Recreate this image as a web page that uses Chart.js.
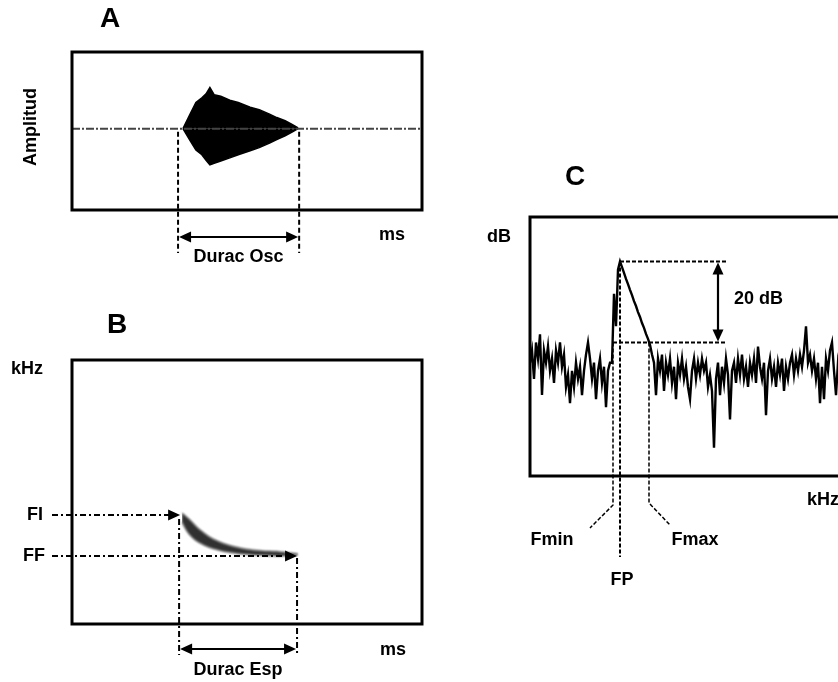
<!DOCTYPE html>
<html>
<head>
<meta charset="utf-8">
<script src="https://cdn.jsdelivr.net/npm/chart.js@4.4.1/dist/chart.umd.min.js"></script>
<style>
  html, body { margin: 0; padding: 0; background: #fff; overflow: hidden; }
  canvas { position: absolute; }
  #oscChart { left: 0; top: 0; }
  #espChart { left: 0; top: 290px; }
  #specChart { left: 460px; top: 150px; }
</style>
</head>
<body>
<canvas id="oscChart" width="460" height="290"></canvas>
<canvas id="espChart" width="460" height="392"></canvas>
<canvas id="specChart" width="440" height="450"></canvas>
<script>
// A - oscillogram envelope (ms, relative amplitude)
const oscTime  = [31.7, 33.7, 35.4, 37.1, 38.3, 39.4, 40.6, 42.5, 45.1, 47.5, 50.9, 53.5, 56.6, 58.5, 60.9, 63.0, 64.6];
const oscUpper = [0, 0.18, 0.33, 0.39, 0.44, 0.52, 0.43, 0.41, 0.36, 0.33, 0.27, 0.24, 0.18, 0.14, 0.10, 0.05, 0.01];
const oscLower = [0, -0.15, -0.27, -0.33, -0.40, -0.46, -0.44, -0.41, -0.37, -0.33, -0.28, -0.24, -0.18, -0.14, -0.09, -0.04, 0];
const duracOsc = [30.3, 64.9];

// B - spectrogram trace (ms, kHz)
const espTime  = [31.4, 33.7, 36.6, 40.9, 46.6, 53.7, 59.4, 64.6];
const espUpper = [4.20, 3.94, 3.56, 3.18, 2.92, 2.77, 2.73, 2.65];
const espLower = [3.86, 3.37, 3.07, 2.84, 2.69, 2.61, 2.58, 2.62];
const fiKhz = 4.13;
const ffKhz = 2.58;
const duracEsp = [30.6, 64.3];

// C - power spectrum, one value per frequency bin (dB)
const specDb = [
  -36, -33, -40, -31, -35, -29, -44, -33, -36, -32, -38, -35, -41, -33, -36, -31, -37, -34, -42, -39,
  -46, -38, -42, -36, -40, -37, -44, -38, -34, -31, -35, -40, -36, -45, -38, -35, -41, -37, -47, -38,
  -36, -36, -19, -27, -13, -11, -12.4, -13.8, -15.3, -16.6, -18.0, -19.3, -20.8, -22.0, -23.5, -24.7,
  -26.2, -27.4, -28.9, -30.1, -31.6, -34, -36, -44, -35, -38, -34, -43, -36, -39, -35, -41, -37, -45,
  -36, -39, -35, -40, -37, -42, -45, -38, -35, -40, -36, -39, -35, -38, -36, -42, -39, -43, -57, -40,
  -36, -44, -37, -41, -35, -39, -50, -38, -36, -41, -35, -39, -34, -40, -37, -42, -36, -39, -35, -41,
  -32, -37, -40, -36, -49, -38, -35, -40, -37, -42, -36, -39, -35, -43, -37, -40, -36, -34, -39, -35,
  -38, -34, -37, -33, -27, -36, -34, -38, -35, -40, -36, -46, -37, -45, -35, -38, -33, -31, -38, -44,
  -36, -39, -35, -41, -37, -34, -40, -36, -43, -38, -35, -39, -36, -42, -37, -34, -40, -38, -36, -41
];
const fMinBin = 41.5;
const fpBin = 45;
const fMaxBin = 59.5;
const peakDb = -11;

const FONT = 'bold 18px "Liberation Sans", Arial, sans-serif';
const BIG = 'bold 28px "Liberation Sans", Arial, sans-serif';

function path(ctx, pts, dash, width) {
  ctx.save();
  ctx.beginPath();
  ctx.setLineDash(dash || []);
  ctx.lineWidth = width || 2;
  ctx.strokeStyle = '#000';
  pts.forEach((p, i) => i ? ctx.lineTo(p[0], p[1]) : ctx.moveTo(p[0], p[1]));
  ctx.stroke();
  ctx.restore();
}

// filled arrow head, tip at (x, y), pointing along angle a
function head(ctx, x, y, a) {
  ctx.save();
  ctx.translate(x, y);
  ctx.rotate(a);
  ctx.fillStyle = '#000';
  ctx.beginPath();
  ctx.moveTo(0, 0);
  ctx.lineTo(-12, -5.5);
  ctx.lineTo(-12, 5.5);
  ctx.closePath();
  ctx.fill();
  ctx.restore();
}

function text(ctx, s, x, y, align, font) {
  ctx.save();
  ctx.font = font || FONT;
  ctx.fillStyle = '#000';
  ctx.textAlign = align || 'center';
  ctx.textBaseline = 'middle';
  ctx.fillText(s, x, y);
  ctx.restore();
}

function hArrow(ctx, x1, x2, y) {
  path(ctx, [[x1 + 4, y], [x2 - 4, y]], [], 2.2);
  head(ctx, x1, y, Math.PI);
  head(ctx, x2, y, 0);
}

const frame = {
  id: 'frame',
  afterDraw(chart) {
    const { ctx, chartArea: a } = chart;
    ctx.save();
    ctx.lineWidth = 3;
    ctx.strokeStyle = '#000';
    ctx.strokeRect(a.left, a.top, a.right - a.left, a.bottom - a.top);
    ctx.restore();
  }
};

function options(pad, xr, yr) {
  return {
    responsive: false,
    animation: false,
    layout: { padding: pad },
    plugins: { legend: { display: false }, tooltip: { enabled: false } },
    elements: { point: { radius: 0 }, line: { borderCapStyle: 'butt' } },
    scales: {
      x: { type: 'linear', display: false, min: xr[0], max: xr[1] },
      y: { type: 'linear', display: false, min: yr[0], max: yr[1] }
    }
  };
}

const pts = (xs, ys) => xs.map((x, i) => ({ x, y: ys[i] }));

// A: oscillogram
new Chart(document.getElementById('oscChart'), {
  type: 'line',
  data: {
    datasets: [
      { data: [{ x: 0, y: 0 }, { x: 100, y: 0 }], borderColor: '#444', borderWidth: 2, borderDash: [8, 2, 2, 2] },
      { data: pts(oscTime, oscUpper), borderColor: '#000', borderWidth: 1.5, backgroundColor: '#000', fill: 'origin' },
      { data: pts(oscTime, oscLower), borderColor: '#000', borderWidth: 1.5, backgroundColor: '#000', fill: 'origin' }
    ]
  },
  options: options({ left: 72, top: 52, right: 38, bottom: 80 }, [0, 100], [-1.03, 0.97]),
  plugins: [frame, {
    id: 'oscNotes',
    afterDraw(chart) {
      const { ctx, chartArea: a, scales: { x, y } } = chart;
      const x1 = x.getPixelForValue(duracOsc[0]);
      const x2 = x.getPixelForValue(duracOsc[1]);
      const y0 = y.getPixelForValue(0);
      path(ctx, [[x1, y0 + 3], [x1, a.bottom + 43]], [5, 3]);
      path(ctx, [[x2, y0 + 3], [x2, a.bottom + 43]], [5, 3]);
      hArrow(ctx, x1 + 1, x2 - 1, a.bottom + 27);
      text(ctx, 'Durac Osc', (x1 + x2) / 2, a.bottom + 47);
      text(ctx, 'ms', a.right - 30, a.bottom + 25);
      text(ctx, 'A', 110, a.top - 33, 'center', BIG);
      ctx.save();
      ctx.translate(31, (a.top + a.bottom) / 2 - 4);
      ctx.rotate(-Math.PI / 2);
      text(ctx, 'Amplitud', 0, 0);
      ctx.restore();
    }
  }]
});

// B: spectrogram
new Chart(document.getElementById('espChart'), {
  type: 'line',
  data: {
    datasets: [
      { data: pts(espTime, espUpper), borderColor: 'rgba(30,30,30,0.6)', borderWidth: 1, backgroundColor: 'rgba(25,25,25,0.9)', fill: '+1', tension: 0.4 },
      { data: pts(espTime, espLower), borderColor: 'rgba(30,30,30,0.6)', borderWidth: 1, fill: false, tension: 0.4 }
    ]
  },
  options: options({ left: 72, top: 70, right: 38, bottom: 58 }, [0, 100], [0, 10]),
  plugins: [{
    id: 'soften',
    beforeDatasetsDraw(chart) { chart.ctx.save(); chart.ctx.filter = 'blur(1.2px)'; },
    afterDatasetsDraw(chart) { chart.ctx.restore(); }
  }, frame, {
    id: 'espNotes',
    afterDraw(chart) {
      const { ctx, chartArea: a, scales: { x, y } } = chart;
      const x1 = x.getPixelForValue(duracEsp[0]);
      const x2 = x.getPixelForValue(duracEsp[1]);
      const yFi = y.getPixelForValue(fiKhz);
      const yFf = y.getPixelForValue(ffKhz);
      const dashDot = [6, 3, 2, 3];
      path(ctx, [[52, yFi], [x1 - 6, yFi]], dashDot);
      head(ctx, x1 + 1, yFi, 0);
      path(ctx, [[52, yFf], [x2 - 6, yFf]], dashDot);
      head(ctx, x2, yFf, 0);
      path(ctx, [[x1, yFi + 4], [x1, a.bottom + 31]], dashDot);
      path(ctx, [[x2, yFf + 2], [x2, a.bottom + 31]], dashDot);
      hArrow(ctx, x1 + 1, x2 - 1, a.bottom + 25);
      text(ctx, 'FI', 43, yFi, 'right');
      text(ctx, 'FF', 45, yFf, 'right');
      text(ctx, 'Durac Esp', (x1 + x2) / 2, a.bottom + 46);
      text(ctx, 'ms', a.right - 29, a.bottom + 26);
      text(ctx, 'kHz', 27, a.top + 9);
      text(ctx, 'B', 117, a.top - 35, 'center', BIG);
    }
  }]
});

// C: power spectrum
new Chart(document.getElementById('specChart'), {
  type: 'line',
  data: {
    datasets: [
      { data: specDb.map((v, i) => ({ x: i, y: v })), borderColor: '#000', borderWidth: 2.4, fill: false }
    ]
  },
  options: options({ left: 70, top: 67, right: 20, bottom: 124 }, [0, 175], [-64, 0]),
  plugins: [frame, {
    id: 'specNotes',
    afterDraw(chart) {
      const { ctx, chartArea: a, scales: { x, y } } = chart;
      const xMin = x.getPixelForValue(fMinBin);
      const xFp = x.getPixelForValue(fpBin);
      const xMax = x.getPixelForValue(fMaxBin);
      const yPk = y.getPixelForValue(peakDb);
      const yRef = y.getPixelForValue(peakDb - 20);
      const dash = [4, 2];
      path(ctx, [[xFp, yPk], [xFp + 107, yPk]], dash);
      path(ctx, [[xMin, yRef], [xFp + 107, yRef]], dash);
      path(ctx, [[xFp, yPk], [xFp, a.bottom + 81]], dash);
      path(ctx, [[xMin, yRef], [xMin, a.bottom + 29], [xMin - 23, a.bottom + 52]], dash, 1.5);
      path(ctx, [[xMax, yRef], [xMax, a.bottom + 27], [xMax + 21, a.bottom + 49]], dash, 1.5);
      const xa = xFp + 98;
      path(ctx, [[xa, yPk + 4], [xa, yRef - 4]], [], 2.2);
      head(ctx, xa, yPk + 1, -Math.PI / 2);
      head(ctx, xa, yRef - 1, Math.PI / 2);
      text(ctx, '20 dB', xFp + 114, (yPk + yRef) / 2 - 3, 'left');
      text(ctx, 'dB', 39, a.top + 20);
      text(ctx, 'kHz', 363, a.bottom + 24);
      text(ctx, 'Fmin', xMin - 61, a.bottom + 64);
      text(ctx, 'Fmax', xMax + 46, a.bottom + 64);
      text(ctx, 'FP', xFp + 2, a.bottom + 104);
      text(ctx, 'C', 115, a.top - 40, 'center', BIG);
    }
  }]
});
</script>
</body>
</html>
